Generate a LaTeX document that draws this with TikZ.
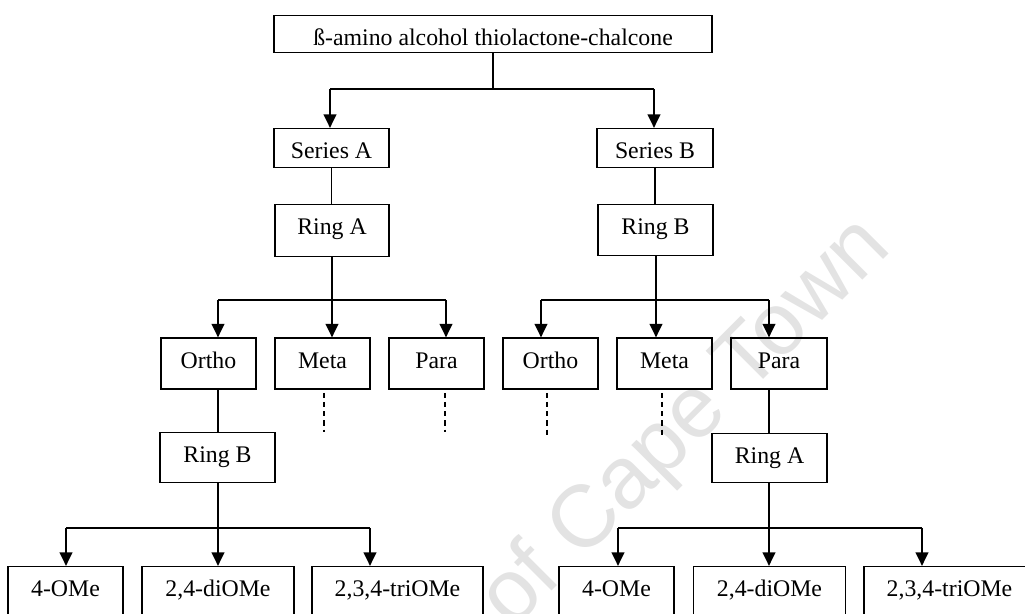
\documentclass[tikz,border=0pt]{standalone}
\usepackage{fontspec}
\setmainfont{Liberation Serif}
\newfontfamily\wmfont{Liberation Sans}
\usetikzlibrary{arrows.meta}
\tikzset{
  bx/.style 2 args={draw, line width=0.65pt, inner xsep=0pt, inner ysep=0pt, anchor=north,
    minimum width=#1, text height=15pt, text depth=#2, font=\fontsize{11.9}{14}\selectfont},
  ln/.style={line width=0.6pt},
  arr/.style={line width=1.35pt, -{Triangle[width=6.2pt,length=6.8pt]}},
  dsh/.style={line width=0.7pt, dash pattern=on 2.6pt off 2pt},
}
\begin{document}
\begin{tikzpicture}[x=0.5pt,y=-0.5pt]
\useasboundingbox (0,0) rectangle (1025,614);
\clip (0,0) rectangle (1025,614);
% watermark
\node[rotate=45, anchor=base east, text=black!11, font=\wmfont\fontsize{44}{44}\selectfont, inner sep=0pt] (wm) at (893,250) {University of Cape Town};
% nodes
\node[bx={219pt}{3.5pt}] (top) at (493,15) {ß-amino alcohol thiolactone-chalcone};
\node[bx={57.5pt}{4.5pt}] (serA) at (331.5,128) {Series A};
\node[bx={58pt}{4.5pt}] (serB) at (655,128) {Series B};
\node[bx={57pt}{11pt}] (ringA1) at (332,204) {Ring A};
\node[bx={57.5pt}{10.5pt}] (ringB1) at (655.5,204) {Ring B};
\node[bx={47.5pt}{10.5pt}] (ortA) at (208.5,337.5) {Ortho};
\node[bx={47.5pt}{10.5pt}] (metA) at (322.5,337.5) {Meta};
\node[bx={47.5pt}{10.5pt}] (parA) at (436.5,337.5) {Para};
\node[bx={47.5pt}{10.5pt}] (ortB) at (550.5,337.5) {Ortho};
\node[bx={47.5pt}{10.5pt}] (metB) at (664.5,337.5) {Meta};
\node[bx={48pt}{10.5pt}] (parB) at (779,337.5) {Para};
\node[bx={57.5pt}{10pt}] (ringB2) at (217.5,432) {Ring B};
\node[bx={57.5pt}{9.5pt}] (ringA2) at (769.5,433) {Ring A};
\node[bx={57.5pt}{22pt}] (l1) at (65.5,566) {4-OMe};
\node[bx={76pt}{22pt}] (l2) at (218,566) {2,4-diOMe};
\node[bx={85.5pt}{22pt}] (l3) at (397.5,566) {2,3,4-triOMe};
\node[bx={57.5pt}{22pt}] (r1) at (616.5,566) {4-OMe};
\node[bx={76pt}{22pt}] (r2) at (769.5,566) {2,4-diOMe};
\node[bx={85.5pt}{22pt}] (r3) at (949.5,566) {2,3,4-triOMe};
% junction coordinates
\coordinate (b0) at (493,89);
\coordinate (a1) at (330,89);
\coordinate (a2) at (654,89);
\coordinate (b1) at (332,300);
\coordinate (c1) at (218,300);
\coordinate (c3) at (446,300);
\coordinate (b2) at (656,300);
\coordinate (d1) at (541,300);
\coordinate (d3) at (769,300);
\coordinate (b3) at (218,528);
\coordinate (e1) at (66,528);
\coordinate (e3) at (370,528);
\coordinate (b4) at (769,528);
\coordinate (f1) at (618,528);
\coordinate (f3) at (922,528);
% level 1
\draw[ln] (top.south -| b0) -- (b0);
\draw[ln] (a1) -- (a2);
\draw[arr] (a1) -- (a1 |- serA.north);
\draw[arr] (a2) -- (a2 |- serB.north);
\draw[ln] (serA.south) -- (serA.south |- ringA1.north);
\draw[ln] (serB.south) -- (serB.south |- ringB1.north);
% level 2 left
\draw[ln] (ringA1.south -| b1) -- (b1);
\draw[ln] (c1) -- (c3);
\draw[arr] (c1) -- (c1 |- ortA.north);
\draw[arr] (b1) -- (b1 |- metA.north);
\draw[arr] (c3) -- (c3 |- parA.north);
% level 2 right
\draw[ln] (ringB1.south -| b2) -- (b2);
\draw[ln] (d1) -- (d3);
\draw[arr] (d1) -- (d1 |- ortB.north);
\draw[arr] (b2) -- (b2 |- metB.north);
\draw[arr] (d3) -- (d3 |- parB.north);
% continuing links
\draw[ln] (ortA.south -| c1) -- (c1 |- ringB2.north);
\draw[ln] (parB.south -| d3) -- (d3 |- ringA2.north);
% dashed
\coordinate (mA) at (324,432);
\coordinate (pA) at (445,432);
\coordinate (oB) at (547,437);
\coordinate (mB) at (662,437);
\draw[dsh] ([yshift=-1.5pt]metA.south -| mA) -- (mA);
\draw[dsh] ([yshift=-1.5pt]parA.south -| pA) -- (pA);
\draw[dsh] ([yshift=-1.5pt]ortB.south -| oB) -- (oB);
\draw[dsh] ([yshift=-1.5pt]metB.south -| mB) -- (mB);
% level 3 left
\draw[ln] (ringB2.south -| b3) -- (b3);
\draw[ln] (e1) -- (e3);
\draw[arr] (e1) -- (e1 |- l1.north);
\draw[arr] (b3) -- (b3 |- l2.north);
\draw[arr] (e3) -- (e3 |- l3.north);
% level 3 right
\draw[ln] (ringA2.south -| b4) -- (b4);
\draw[ln] (f1) -- (f3);
\draw[arr] (f1) -- (f1 |- r1.north);
\draw[arr] (b4) -- (b4 |- r2.north);
\draw[arr] (f3) -- (f3 |- r3.north);
\end{tikzpicture}
\end{document}
